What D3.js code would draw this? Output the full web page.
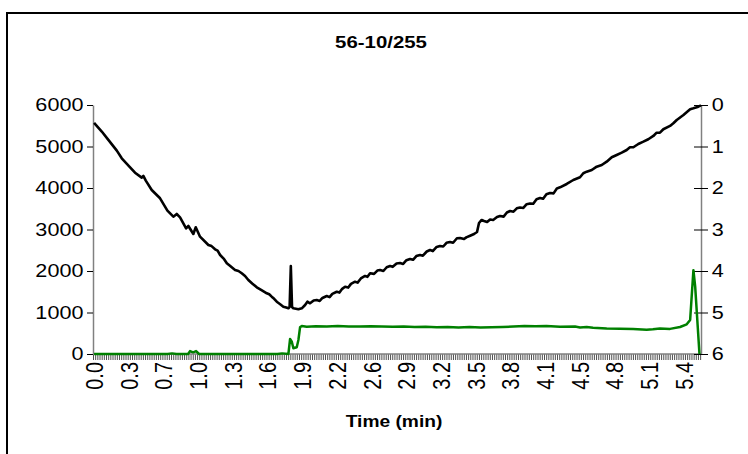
<!DOCTYPE html>
<html lang="en">
<head>
    <meta charset="UTF-8">
    <title>56-10/255</title>
    <script src="https://d3js.org/d3.v7.min.js"></script>
    <style>
        body { margin: 0; background: #fff; }
        svg text { font-family: Arial, "Liberation Sans", sans-serif; fill: #000; }
    </style>
</head>
<body>
<script>
    // black trace (left axis)
    var blackTime = [0.030, 0.100, 0.160, 0.237, 0.282, 0.358, 0.403, 0.464, 0.479, 0.501,
        0.555, 0.631, 0.698, 0.752, 0.783, 0.813, 0.868, 0.889, 0.934, 0.956,
        0.995, 1.071, 1.100, 1.132, 1.155, 1.178, 1.210, 1.239, 1.270, 1.314,
        1.345, 1.375, 1.405, 1.435, 1.470, 1.512, 1.555, 1.603, 1.625, 1.648,
        1.670, 1.694, 1.725, 1.754, 1.780, 1.800, 1.811, 1.822, 1.833, 1.845,
        1.891, 1.922, 1.952, 1.973, 1.997, 2.030, 2.058, 2.085, 2.110, 2.149,
        2.175, 2.200, 2.240, 2.265, 2.290, 2.316, 2.345, 2.370, 2.407, 2.430,
        2.460, 2.498, 2.520, 2.544, 2.580, 2.610, 2.635, 2.665, 2.695, 2.726,
        2.750, 2.785, 2.817, 2.845, 2.875, 2.908, 2.935, 2.965, 2.999, 3.025,
        3.060, 3.090, 3.115, 3.150, 3.181, 3.210, 3.240, 3.272, 3.300, 3.335,
        3.363, 3.400, 3.420, 3.455, 3.491, 3.518, 3.536, 3.560, 3.582, 3.610,
        3.637, 3.665, 3.700, 3.728, 3.760, 3.790, 3.819, 3.850, 3.880, 3.910,
        3.940, 3.970, 4.001, 4.030, 4.060, 4.092, 4.120, 4.150, 4.183, 4.215,
        4.245, 4.274, 4.335, 4.395, 4.456, 4.486, 4.517, 4.563, 4.608, 4.654,
        4.699, 4.745, 4.790, 4.836, 4.881, 4.911, 4.942, 4.987, 5.033, 5.078,
        5.124, 5.154, 5.184, 5.215, 5.276, 5.306, 5.337, 5.398, 5.459, 5.489,
        5.534, 5.558];
    var blackValue = [5570, 5360, 5160, 4900, 4716, 4499, 4369, 4249, 4290, 4177,
        3952, 3752, 3454, 3309, 3374, 3294, 3029, 3085, 2892, 3053,
        2827, 2627, 2600, 2523, 2490, 2386, 2300, 2186, 2120, 2024,
        2000, 1945, 1880, 1783, 1700, 1607, 1540, 1463, 1440, 1381,
        1330, 1260, 1200, 1140, 1120, 1101, 1133, 2120, 1133, 1101,
        1077, 1101, 1181, 1260, 1222, 1290, 1301, 1280, 1350, 1398,
        1370, 1450, 1501, 1480, 1570, 1622, 1600, 1690, 1742, 1720,
        1820, 1880, 1860, 1945, 1930, 2010, 2024, 2000, 2090, 2121,
        2100, 2180, 2193, 2170, 2260, 2290, 2270, 2360, 2386, 2370,
        2470, 2506, 2480, 2580, 2603, 2590, 2680, 2699, 2680, 2790,
        2796, 2770, 2810, 2850, 2892, 2940, 3157, 3230, 3205, 3180,
        3241, 3230, 3300, 3326, 3310, 3410, 3446, 3430, 3510, 3531,
        3520, 3610, 3627, 3620, 3730, 3760, 3740, 3850, 3880, 3870,
        3990, 4017, 4097, 4193, 4258, 4355, 4393, 4434, 4514, 4555,
        4634, 4740, 4796, 4851, 4916, 4981, 4981, 5061, 5116, 5174,
        5254, 5333, 5333, 5415, 5495, 5560, 5639, 5760, 5897, 5921,
        5960, 5990];

    // green trace (left axis)
    var greenTime = [0.030, 0.700, 0.740, 0.780, 0.886, 0.904, 0.932, 0.959, 0.986, 1.700,
        1.742, 1.800, 1.815, 1.831, 1.845, 1.876, 1.891, 1.906, 1.922, 1.967,
        2.050, 2.150, 2.250, 2.350, 2.450, 2.550, 2.650, 2.750, 2.850, 2.950,
        3.050, 3.150, 3.250, 3.350, 3.450, 3.550, 3.650, 3.750, 3.850, 3.950,
        4.050, 4.150, 4.274, 4.411, 4.456, 4.517, 4.575, 4.699, 4.820, 4.939,
        5.063, 5.120, 5.184, 5.276, 5.367, 5.428, 5.459, 5.489, 5.505, 5.544];
    var greenValue = [0, 0, 15, 0, 0, 70, 40, 70, 0, 0,
        15, 0, 360, 296, 137, 161, 337, 643, 675, 658,
        670, 660, 675, 665, 660, 668, 662, 655, 660, 650,
        655, 645, 650, 640, 648, 640, 645, 650, 660, 672,
        668, 675, 658, 665, 640, 650, 635, 615, 610, 600,
        585, 595, 615, 605, 650, 716, 819, 2020, 1622, 0];

    var leftTicks = [0, 1000, 2000, 3000, 4000, 5000, 6000];
    var rightTicks = [0, 1, 2, 3, 4, 5, 6];
    var xTickLabels = ["0.0", "0.3", "0.7", "1.0", "1.3", "1.6", "1.9", "2.2", "2.6",
        "2.9", "3.2", "3.5", "3.8", "4.1", "4.5", "4.8", "5.1", "5.4"];

    // sampling of the time categories
    var firstTime = 0.03, sampleStep = 0.01975, labelEvery = 16;

    var w = 748, h = 454;
    var plotLeft = 93, plotRight = 701, plotTop = 105, plotBottom = 354;
    var stretch = "scale(1.2,1)";

    var svg = d3.select("body").append("svg")
        .attr("width", w)
        .attr("height", h);

    // chart frame
    svg.append("rect")
        .attr("x", 7).attr("y", 13)
        .attr("width", 800).attr("height", 500)
        .attr("fill", "none")
        .attr("stroke", "#000")
        .attr("stroke-width", 2);

    var x = d3.scaleLinear()
        .domain([firstTime - sampleStep / 2, 5.558])
        .range([plotLeft, plotRight]);
    var y = d3.scaleLinear().domain([0, 6000]).range([plotBottom, plotTop]);
    var yRight = d3.scaleLinear().domain([0, 6]).range([plotTop, plotBottom]);

    // category tick marks
    var catTicks = d3.range(0, 281).map(function(i) { return firstTime - sampleStep / 2 + i * sampleStep; });
    var xMinor = svg.append("g")
        .attr("transform", "translate(0," + plotBottom + ")")
        .call(d3.axisBottom(x).tickValues(catTicks).tickFormat("").tickSize(6));
    xMinor.select(".domain").remove();
    xMinor.selectAll(".tick line").attr("stroke", "#222").attr("stroke-width", 0.8);

    // category labels
    var labelTimes = xTickLabels.map(function(d, i) { return firstTime + i * labelEvery * sampleStep; });
    var xAxis = svg.append("g")
        .attr("transform", "translate(0," + plotBottom + ")")
        .call(d3.axisBottom(x).tickValues(labelTimes)
            .tickFormat(function(d, i) { return xTickLabels[i]; })
            .tickSize(0));
    xAxis.select(".domain").attr("stroke", "#808080").attr("stroke-width", 1.5)
        .attr("d", "M" + plotLeft + ",0H" + plotRight);
    xAxis.selectAll("text")
        .attr("font-size", 20)
        .attr("text-anchor", "end")
        .attr("x", -8)
        .attr("y", 0)
        .attr("dy", "0.35em")
        .attr("transform", stretch + " rotate(-90)");

    // left axis
    var yAxis = svg.append("g")
        .attr("transform", "translate(" + plotLeft + ",0)")
        .call(d3.axisLeft(y).tickValues(leftTicks).tickFormat(d3.format("d")).tickSize(6).tickSizeOuter(0));
    yAxis.select(".domain").attr("stroke", "#808080").attr("stroke-width", 1.5);
    yAxis.selectAll(".tick line").attr("stroke", "#000");
    yAxis.selectAll("text")
        .attr("font-size", 18)
        .attr("x", -8)
        .attr("transform", stretch);

    // right axis, reversed
    var yAxisR = svg.append("g")
        .attr("transform", "translate(" + plotRight + ",0)")
        .call(d3.axisRight(yRight).tickValues(rightTicks).tickFormat(d3.format("d")).tickSize(7).tickSizeOuter(0));
    yAxisR.select(".domain").attr("stroke", "#808080").attr("stroke-width", 1.5);
    yAxisR.selectAll(".tick line").attr("stroke", "#000").attr("x1", -7);
    yAxisR.selectAll("text")
        .attr("font-size", 18)
        .attr("x", 9)
        .attr("transform", stretch);

    var line = d3.line()
        .x(function(d) { return x(d[0]); })
        .y(function(d) { return y(d[1]); });

    svg.append("path")
        .datum(greenTime.map(function(t, i) { return [t, greenValue[i]]; }))
        .attr("d", line)
        .attr("fill", "none")
        .attr("stroke", "#008000")
        .attr("stroke-width", 2.5)
        .attr("stroke-linejoin", "round");

    svg.append("path")
        .datum(blackTime.map(function(t, i) { return [t, blackValue[i]]; }))
        .attr("d", line)
        .attr("fill", "none")
        .attr("stroke", "#000")
        .attr("stroke-width", 2.6)
        .attr("stroke-linejoin", "round");

    // titles
    svg.append("text")
        .attr("transform", "translate(381,48) " + stretch)
        .attr("text-anchor", "middle")
        .attr("font-size", 17)
        .attr("font-weight", "bold")
        .text("56-10/255");

    svg.append("text")
        .attr("transform", "translate(394,427) " + stretch)
        .attr("text-anchor", "middle")
        .attr("font-size", 16)
        .attr("font-weight", "bold")
        .text("Time (min)");
</script>
</body>
</html>
